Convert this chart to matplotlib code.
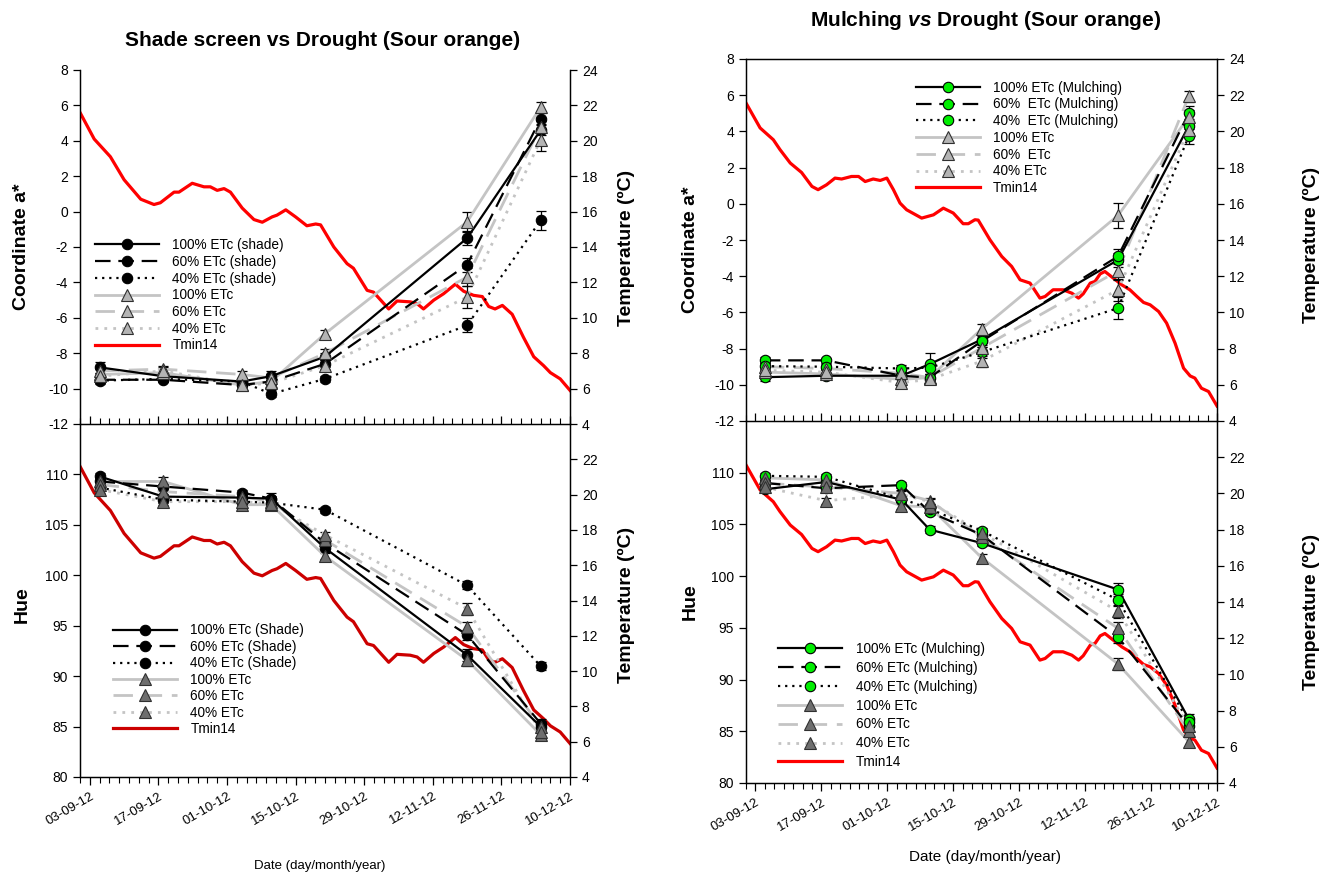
import numpy as np
import matplotlib
matplotlib.use("Agg")
import matplotlib.pyplot as plt
import matplotlib.dates as mdates
from matplotlib.lines import Line2D
from matplotlib.ticker import FixedLocator, MultipleLocator

plt.rcParams['font.family'] = ['Liberation Sans', 'DejaVu Sans']
plt.rcParams['mathtext.fontset'] = 'custom'
plt.rcParams['mathtext.it'] = 'Liberation Sans:italic:bold'
plt.rcParams['axes.unicode_minus'] = False

# ---------------- data ----------------
BASE_DATE = '2012-09-01'
END_DATE = '2012-12-10'
SAMPLE_DATES = ['2012-09-05', '2012-09-18', '2012-10-04', '2012-10-10',
                '2012-10-21', '2012-11-19', '2012-12-04']
TICK_DATES = ['2012-09-03', '2012-09-17', '2012-10-01', '2012-10-15',
              '2012-10-29', '2012-11-12', '2012-11-26', '2012-12-10']
TICK_LABELS = ['03-09-12', '17-09-12', '01-10-12', '15-10-12',
               '29-10-12', '12-11-12', '26-11-12', '10-12-12']

# Tmin14 (days after 1 Sep 2012, deg C) - left figure
TMIN_L_DAYS = [0, 2.9, 6.2, 9.0, 12.4, 15.1, 16.4, 19.2, 20.2, 22.9, 25.3, 26.6,
               28.0, 29.4, 30.7, 33.1, 35.5, 37.2, 39.2, 40.2, 42.0, 44.0, 46.3,
               48.1, 49.1, 51.8, 54.5, 55.8, 58.6, 59.9, 63.0, 64.7, 67.4, 68.8,
               70.1, 72.2, 74.2, 76.6, 78.3, 80.3, 82.1, 83.4, 84.7, 86.2, 88.2,
               90.5, 92.6, 94.6, 96.0, 98.0, 100]
TMIN_L_VALUES = [21.6, 20.1, 19.1, 17.8, 16.7, 16.4, 16.5, 17.1, 17.1, 17.6, 17.4,
                 17.4, 17.2, 17.3, 17.1, 16.2, 15.55, 15.4, 15.7, 15.8, 16.1, 15.7,
                 15.2, 15.3, 15.25, 14.0, 13.06, 12.8, 11.55, 11.45, 10.5, 10.95,
                 10.9, 10.8, 10.5, 11.0, 11.36, 11.9, 11.5, 11.27, 11.2, 10.64, 10.5,
                 10.7, 10.2, 8.9, 7.8, 7.3, 6.9, 6.55, 5.9]
# Tmin14 - right figure
TMIN_R_DAYS = [0, 3.0, 5.8, 7.2, 9.4, 11.8, 14.0, 15.3, 17.1, 18.9, 20.3, 22.4,
               23.9, 25.3, 27.0, 28.5, 29.9, 31.3, 32.7, 34.1, 37.3, 39.8, 41.9,
               44.0, 46.1, 47.2, 48.6, 49.3, 51.8, 54.3, 56.4, 58.2, 60.3, 62.4,
               63.5, 65.2, 67.3, 69.2, 70.6, 71.6, 73.1, 74.1, 75.2, 76.2, 78.0,
               79.8, 81.5, 83.0, 84.4, 85.8, 87.6, 89.3, 91.1, 92.9, 94.3, 95.3,
               96.7, 98.2, 100]
TMIN_R_VALUES = [21.57, 20.19, 19.54, 19.0, 18.25, 17.73, 16.96, 16.78, 17.05,
                 17.42, 17.37, 17.51, 17.51, 17.23, 17.37, 17.29, 17.42, 16.78,
                 16.04, 15.67, 15.21, 15.39, 15.76, 15.49, 14.9, 14.9, 15.12, 15.1,
                 14.01, 13.09, 12.54, 11.8, 11.62, 10.79, 10.88, 11.25, 11.25,
                 11.06, 10.79, 11.03, 11.62, 11.71, 12.13, 12.26, 11.89, 11.52,
                 11.25, 10.88, 10.55, 10.42, 10.05, 9.41, 8.3, 6.92, 6.49, 6.37,
                 5.81, 5.63, 4.83]

# Coordinate a* - shade screen figure
A_SHADE_100 = [-8.8, -9.3, -9.6, -9.3, -8.2, -1.5, 4.6]
A_SHADE_60 = [-9.5, -9.5, -9.8, -9.6, -8.6, -3.0, 5.25]
A_SHADE_40 = [-9.55, -9.45, -9.6, -10.3, -9.45, -6.43, -0.5]
A_CTRL_L_100 = [-9.2, -9.1, -9.8, -9.6, -6.9, -0.58, 5.9]
A_CTRL_L_60 = [-9.0, -8.9, -9.2, -9.4, -8.0, -3.7, 4.8]
A_CTRL_L_40 = [-9.3, -9.0, -9.8, -9.7, -8.7, -4.83, 4.05]
A_SHADE_ERR = [[0.3, 0.15, 0.2, 0.3, 0.2, 0.4, 0.3],
               [0.2, 0.1, 0.15, 0.2, 0.2, 0.4, 0.3],
               [0.2, 0.15, 0.15, 0.2, 0.15, 0.4, 0.55]]
A_CTRL_L_ERR = [[0.3, 0.2, 0.2, 0.2, 0.2, 0.55, 0.3],
                [0.2, 0.2, 0.2, 0.2, 0.25, 0.5, 0.3],
                [0.2, 0.2, 0.2, 0.2, 0.2, 0.6, 0.6]]

# Hue - shade screen figure
H_SHADE_100 = [109.8, 107.8, 107.7, 107.6, 102.7, 92.1, 85.0]
H_SHADE_60 = [109.3, 108.8, 108.2, 107.6, 103.2, 94.1, 85.3]
H_SHADE_40 = [108.7, 107.5, 107.3, 107.2, 106.5, 99.0, 91.0]
H_CTRL_L_100 = [109.3, 109.3, 107.0, 107.0, 101.9, 91.6, 84.2]
H_CTRL_L_60 = [109.0, 108.3, 107.8, 107.3, 103.5, 94.9, 85.0]
H_CTRL_L_40 = [108.5, 107.3, 107.3, 107.1, 104.0, 96.7, 84.5]
H_SHADE_ERR = [[0.3, 0.3, 0.3, 0.6, 0.4, 0.6, 0.5],
               [0.3, 0.3, 0.3, 0.3, 0.3, 0.5, 0.5],
               [0.3, 0.3, 0.3, 0.3, 0.3, 0.4, 0.4]]
H_CTRL_L_ERR = [[0.3, 0.4, 0.3, 0.3, 0.3, 0.6, 0.5],
                [0.3, 0.3, 0.3, 0.3, 0.3, 0.5, 0.6],
                [0.3, 0.3, 0.3, 0.3, 0.3, 0.6, 0.5]]

# Coordinate a* - mulching figure
A_MULCH_100 = [-9.58, -9.5, -9.5, -8.86, -7.5, -3.1, 4.3]
A_MULCH_60 = [-8.65, -8.65, -9.5, -9.6, -7.6, -2.9, 5.0]
A_MULCH_40 = [-8.97, -9.0, -9.1, -9.05, -8.2, -5.76, 3.73]
A_CTRL_R_100 = [-9.3, -9.4, -9.7, -9.6, -6.92, -0.64, 4.8]
A_CTRL_R_60 = [-9.0, -9.1, -9.36, -9.6, -7.97, -3.7, 5.94]
A_CTRL_R_40 = [-9.2, -9.3, -9.88, -9.7, -8.7, -4.75, 4.1]
A_MULCH_ERR = [[0.2, 0.15, 0.2, 0.6, 0.3, 0.4, 0.4],
               [0.2, 0.15, 0.2, 0.2, 0.3, 0.4, 0.4],
               [0.2, 0.15, 0.2, 0.2, 0.3, 0.6, 0.4]]
A_CTRL_R_ERR = [[0.2, 0.2, 0.2, 0.2, 0.3, 0.7, 0.4],
                [0.2, 0.2, 0.2, 0.2, 0.3, 0.5, 0.3],
                [0.2, 0.2, 0.2, 0.2, 0.3, 0.6, 0.4]]

# Hue - mulching figure
H_MULCH_100 = [108.4, 109.1, 107.4, 104.5, 103.2, 98.7, 86.2]
H_MULCH_60 = [109.0, 108.5, 108.8, 106.2, 104.0, 94.1, 85.5]
H_MULCH_40 = [109.7, 109.6, 107.5, 106.5, 104.4, 97.7, 85.9]
H_CTRL_R_100 = [109.5, 109.3, 106.8, 106.7, 101.8, 91.5, 84.0]
H_CTRL_R_60 = [109.0, 108.6, 108.0, 107.3, 103.8, 94.95, 85.0]
H_CTRL_R_40 = [108.6, 107.3, 107.9, 107.2, 104.2, 96.6, 85.5]
H_MULCH_ERR = [[0.3, 0.3, 0.3, 0.3, 0.3, 0.6, 0.5],
               [0.3, 0.3, 0.3, 0.3, 0.3, 0.6, 0.5],
               [0.3, 0.3, 0.3, 0.3, 0.3, 0.6, 0.5]]
H_CTRL_R_ERR = [[0.3, 0.3, 0.3, 0.3, 0.3, 0.6, 0.5],
                [0.3, 0.3, 0.3, 0.3, 0.3, 0.6, 0.5],
                [0.3, 0.3, 0.3, 0.3, 0.3, 0.6, 0.5]]

# ---------------- styling ----------------
LS = ['-', (0, (7, 3.5)), (0, (1, 2.2))]
GRAY_LINE = '#c4c4c4'
FS_TICK = 10

x_pts = mdates.date2num(np.array(SAMPLE_DATES, dtype='datetime64[D]'))
x0 = mdates.date2num(np.datetime64(BASE_DATE))
x1 = mdates.date2num(np.datetime64(END_DATE))
x_ticks = mdates.date2num(np.array(TICK_DATES, dtype='datetime64[D]'))

fig = plt.figure(figsize=(13.29, 8.77), dpi=100)
W, H = 1329.0, 877.0


def axes_px(left, top, right, bottom):
    return fig.add_axes([left / W, 1 - bottom / H, (right - left) / W, (bottom - top) / H])


def panel(ax, treat, treat_err, ctrl, ctrl_err, tdays, tvals, red, circ_face,
          tri_face, ylim, yticks, tticks, labels, leg_anchor, leg_spacing,
          is_top, show_top_spine):
    tw = ax.twinx()
    tw.plot(x0 + np.array(tdays), tvals, color=red, lw=2.3, zorder=2)
    tw.set_ylim(4, 24)
    tw.yaxis.set_major_locator(FixedLocator(tticks))
    tw.tick_params(axis='y', direction='out', length=5, labelsize=FS_TICK, width=0.9)
    tw.tick_params(axis='x', which='both', bottom=False, top=False,
                   labelbottom=False)
    ax.set_zorder(tw.get_zorder() + 1)
    ax.patch.set_visible(False)

    for i in range(3):
        ax.errorbar(x_pts, ctrl[i], yerr=ctrl_err[i], fmt='none', ecolor='black',
                    elinewidth=0.9, capsize=3.5, capthick=0.9, zorder=3)
        ax.plot(x_pts, ctrl[i], color=GRAY_LINE, ls=LS[i], lw=2.0, zorder=3.2)
    for i in range(3):
        ax.errorbar(x_pts, treat[i], yerr=treat_err[i], fmt='none', ecolor='black',
                    elinewidth=0.9, capsize=3.5, capthick=0.9, zorder=3)
        ax.plot(x_pts, treat[i], color='black', ls=LS[i], lw=1.6, zorder=3.5)
    for i in range(3):
        ax.plot(x_pts, treat[i], ls='none', marker='o', ms=7.5, mfc=circ_face,
                mec='black', mew=0.8, zorder=4)
    for i in range(3):
        ax.plot(x_pts, ctrl[i], ls='none', marker='^', ms=8, mfc=tri_face,
                mec='#303030', mew=0.8, zorder=4.5)

    ax.set_xlim(x0, x1)
    ax.set_ylim(*ylim)
    ax.yaxis.set_major_locator(FixedLocator(yticks))
    ax.tick_params(axis='y', direction='out', length=5, labelsize=FS_TICK, width=0.9)
    ax.xaxis.set_major_locator(FixedLocator(x_ticks))
    ax.xaxis.set_minor_locator(MultipleLocator(2))
    if is_top:
        ax.tick_params(axis='x', which='major', direction='in', length=6,
                       labelbottom=False, width=0.9)
        ax.tick_params(axis='x', which='minor', direction='in', length=4, width=0.8)
    else:
        ax.tick_params(axis='x', which='major', direction='out', length=6,
                       labelsize=FS_TICK - 0.5, width=0.9)
        ax.tick_params(axis='x', which='minor', direction='out', length=4, width=0.8)
        ax.set_xticklabels(TICK_LABELS, rotation=30, ha='right',
                           rotation_mode='anchor')
    for a in (ax, tw):
        a.spines['top'].set_visible(show_top_spine)
        for s in a.spines.values():
            s.set_linewidth(0.9)

    handles = []
    for i in range(3):
        handles.append(Line2D([], [], color='black', ls=LS[i], lw=1.6, marker='o',
                              ms=7.5, mfc=circ_face, mec='black', mew=0.8))
    for i in range(3):
        handles.append(Line2D([], [], color=GRAY_LINE, ls=LS[i], lw=2.0, marker='^',
                              ms=8, mfc=tri_face, mec='#303030', mew=0.8))
    handles.append(Line2D([], [], color=red, lw=2.3))
    ax.legend(handles, labels, loc='upper left', bbox_to_anchor=leg_anchor,
              frameon=False, fontsize=9.8, handlelength=4.7, handletextpad=1.0,
              labelspacing=leg_spacing, borderpad=0, borderaxespad=0)
    return tw


# ---- left figure: shade screen ----
axL1 = axes_px(80, 70, 570, 424)
axL2 = axes_px(80, 424, 570, 777)
panel(axL1, [A_SHADE_100, A_SHADE_60, A_SHADE_40], A_SHADE_ERR,
      [A_CTRL_L_100, A_CTRL_L_60, A_CTRL_L_40], A_CTRL_L_ERR,
      TMIN_L_DAYS, TMIN_L_VALUES, '#ff0000', 'black', '#b4b4b4',
      (-12, 8), np.arange(-12, 9, 2), np.arange(4, 25, 2),
      ['100% ETc (shade)', '60% ETc (shade)', '40% ETc (shade)',
       '100% ETc', '60% ETc', '40% ETc', 'Tmin14'],
      (0.03, 0.525), 0.2, True, False)
panel(axL2, [H_SHADE_100, H_SHADE_60, H_SHADE_40], H_SHADE_ERR,
      [H_CTRL_L_100, H_CTRL_L_60, H_CTRL_L_40], H_CTRL_L_ERR,
      TMIN_L_DAYS, TMIN_L_VALUES, '#cc0000', 'black', '#6e6e6e',
      (80, 115), np.arange(80, 111, 5), np.arange(4, 23, 2),
      ['100% ETc (Shade)', '60% ETc (Shade)', '40% ETc (Shade)',
       '100% ETc', '60% ETc', '40% ETc', 'Tmin14'],
      (0.067, 0.435), 0.18, False, False)

# ---- right figure: mulching ----
axR1 = axes_px(746, 59, 1217, 421)
axR2 = axes_px(746, 421, 1217, 783)
panel(axR1, [A_MULCH_100, A_MULCH_60, A_MULCH_40], A_MULCH_ERR,
      [A_CTRL_R_100, A_CTRL_R_60, A_CTRL_R_40], A_CTRL_R_ERR,
      TMIN_R_DAYS, TMIN_R_VALUES, '#ff0000', '#00ee00', '#b4b4b4',
      (-12, 8), np.arange(-12, 9, 2), np.arange(4, 25, 2),
      ['100% ETc (Mulching)', '60%  ETc (Mulching)', '40%  ETc (Mulching)',
       '100% ETc', '60%  ETc', '40% ETc', 'Tmin14'],
      (0.36, 0.94), 0.2, True, True)
panel(axR2, [H_MULCH_100, H_MULCH_60, H_MULCH_40], H_MULCH_ERR,
      [H_CTRL_R_100, H_CTRL_R_60, H_CTRL_R_40], H_CTRL_R_ERR,
      TMIN_R_DAYS, TMIN_R_VALUES, '#ff0000', '#00ee00', '#6e6e6e',
      (80, 115), np.arange(80, 111, 5), np.arange(4, 23, 2),
      ['100% ETc (Mulching)', '60% ETc (Mulching)', '40% ETc (Mulching)',
       '100% ETc', '60% ETc', '40% ETc', 'Tmin14'],
      (0.068, 0.39), 0.36, False, False)

# ---- texts ----
fig.text(323 / W, 1 - 40 / H, 'Shade screen vs Drought (Sour orange)',
         ha='center', va='center', fontsize=15, fontweight='bold')
fig.text(986 / W, 1 - 20 / H, r'Mulching $vs$ Drought (Sour orange)',
         ha='center', va='center', fontsize=15, fontweight='bold')
ylab = dict(rotation=90, ha='center', va='center', fontsize=14, fontweight='bold')
fig.text(22 / W, 1 - 247 / H, 'Coordinate a*', **ylab)
fig.text(22 / W, 1 - 605 / H, 'Hue', **ylab)
fig.text(626 / W, 1 - 248 / H, 'Temperature (ºC)', **ylab)
fig.text(626 / W, 1 - 605 / H, 'Temperature (ºC)', **ylab)
fig.text(690 / W, 1 - 250 / H, 'Coordinate a*', **ylab)
fig.text(690 / W, 1 - 602 / H, 'Hue', **ylab)
fig.text(1311 / W, 1 - 245 / H, 'Temperature (ºC)', **ylab)
fig.text(1311 / W, 1 - 612 / H, 'Temperature (ºC)', **ylab)
fig.text(320 / W, 1 - 866 / H, 'Date (day/month/year)', ha='center', va='center',
         fontsize=9.5)
fig.text(985 / W, 1 - 857 / H, 'Date (day/month/year)', ha='center', va='center',
         fontsize=11)

fig.savefig('out.png', dpi=100)
